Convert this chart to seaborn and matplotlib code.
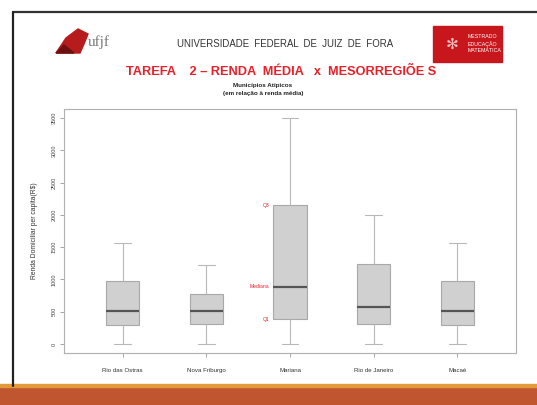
import matplotlib
matplotlib.use("Agg")
import matplotlib.pyplot as plt
from matplotlib.patches import Rectangle, Polygon
from matplotlib.lines import Line2D
import pandas as pd
import seaborn as sns

# Five-number summaries of household income per capita (R$) by municipality
categories = ["Rio das Ostras", "Nova Friburgo", "Mariana", "Rio de Janeiro", "Macaé"]
minimum = [0, 0, 0, 0, 0]
q1 = [290, 305, 385, 305, 290]
median = [505, 505, 890, 565, 505]
q3 = [980, 780, 2150, 1240, 980]
maximum = [1565, 1225, 3500, 1995, 1565]
y_ticks = [0, 500, 1000, 1500, 2000, 2500, 3000, 3500]

rows = []
for i, c in enumerate(categories):
    for v in (minimum[i], q1[i], median[i], q3[i], maximum[i]):
        rows.append({"Município": c, "Renda": v})
df = pd.DataFrame(rows)

sns.set_theme(style="white")
plt.rcParams["font.family"] = ["Liberation Sans", "DejaVu Sans"]

W, H = 537, 405
fig = plt.figure(figsize=(W / 100, H / 100), dpi=100)
fig.patch.set_facecolor("white")


def fx(x):
    return x / W


def fy(y):
    return 1 - y / H


# slide frame
fig.add_artist(Line2D([fx(13), fx(537)], [fy(12), fy(12)], color="#333333", lw=1.6))
fig.add_artist(Line2D([fx(13), fx(13)], [fy(12), fy(386)], color="#222222", lw=1.6))
# bottom band
fig.add_artist(Rectangle((0, 0), 1, fy(386), color="#bf5630", zorder=1))
fig.add_artist(Rectangle((0, fy(387)), 1, 3 / H, color="#e39a3a", zorder=1))

# header: logo
fig.add_artist(Polygon([[fx(56), fy(53)], [fx(66), fy(38)], [fx(78), fy(29)],
                        [fx(88), fy(34)], [fx(84), fy(44)], [fx(80), fy(53)]],
                       closed=True, color="#b71c1c", zorder=2))
fig.add_artist(Polygon([[fx(56), fy(53)], [fx(64), fy(45)], [fx(74), fy(53)]],
                       closed=True, color="#6d1010", zorder=3))
fig.text(fx(99), fy(42), "ufjf", ha="center", va="center", fontsize=11,
         family="Liberation Serif", color="#777777")
fig.text(fx(285), fy(44), "UNIVERSIDADE  FEDERAL  DE  JUIZ  DE  FORA", ha="center",
         va="center", fontsize=6.9, color="#333333")
# header: program badge
fig.add_artist(Rectangle((fx(433), fy(62)), (502 - 433) / W, (62 - 26) / H,
                         color="#c8161d", zorder=2))
fig.text(fx(452), fy(44), "✻", ha="center", va="center", fontsize=11,
         color="#f3c0c0", family="DejaVu Sans", zorder=3)
for k, t in enumerate(["MESTRADO", "EDUCAÇÃO", "MATEMÁTICA"]):
    fig.text(fx(468), fy(37 + 7 * k), t, ha="left", va="center",
             fontsize=3.8, color="white", zorder=3)

fig.text(fx(281), fy(72), "TAREFA    2 – RENDA  MÉDIA   x  MESORREGIÕE S",
         ha="center", va="center", fontsize=9.2, fontweight="bold", color="#e8202a")
fig.text(fx(263), fy(86), "Municípios Atípicos", ha="center", va="center",
         fontsize=4.5, fontweight="bold", color="#222222")
fig.text(fx(263), fy(93), "(em relação à renda média)", ha="center", va="center",
         fontsize=4.5, fontweight="bold", color="#222222")

ax = fig.add_axes([fx(64), fy(353), (516 - 64) / W, (353 - 109) / H])
ax.set_facecolor("white")

sns.boxplot(data=df, x="Município", y="Renda", order=categories, whis=(0, 100),
            width=0.4, color="#d0d0d0", linecolor="#a8a8a8", linewidth=0.8,
            medianprops={"color": "#555555", "linewidth": 1.6},
            whiskerprops={"color": "#b8b8b8", "linewidth": 0.8},
            capprops={"color": "#b8b8b8", "linewidth": 0.8},
            saturation=1, ax=ax)

ax.set_xlim(-0.7, 4.7)
ax.set_ylim(-140, 3640)
ax.set_yticks(y_ticks)
ax.set_yticklabels([str(v) for v in y_ticks], rotation=90, va="center",
                   fontsize=4.0, color="#444444")
ax.set_xticks(range(len(categories)))
ax.set_xticklabels(categories, fontsize=4.4, color="#333333")
ax.tick_params(axis="both", length=3, width=0.6, color="#999999", pad=2,
               left=True, bottom=True, direction="out")
ax.tick_params(axis="x", pad=8)
ax.set_xlabel("")
ax.set_ylabel("Renda Domiciliar per capita(R$)", fontsize=4.9, color="#333333",
              labelpad=10)
for s in ax.spines.values():
    s.set_color("#b0b0b0")
    s.set_linewidth(0.8)

# quartile labels beside the Mariana box
mi = categories.index("Mariana")
for val, lab in ((q3[mi], "Q3"), (median[mi], "Mediana"), (q1[mi], "Q1")):
    ax.text(mi - 0.25, val, lab, ha="right", va="center", fontsize=3.6,
            color="#e8202a")

fig.savefig("out.png", dpi=100)
